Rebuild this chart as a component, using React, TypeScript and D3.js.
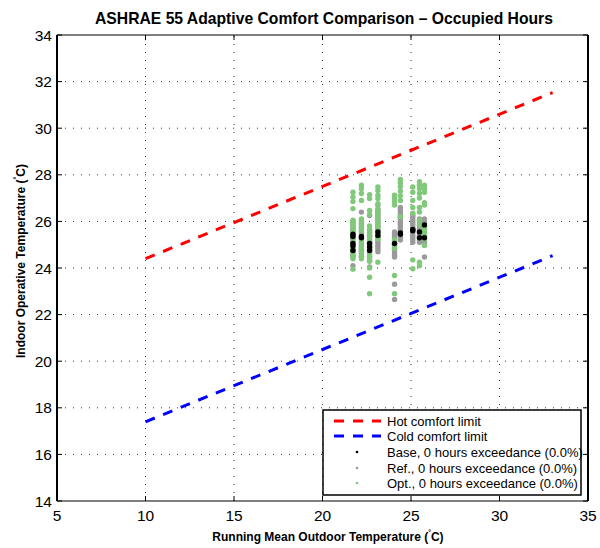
import React from "react";
import * as d3 from "d3";

const W = 600;
const H = 548;
const M = { left: 57, right: 588, top: 35, bottom: 501 };

const xTicks = [5, 10, 15, 20, 25, 30, 35];
const yTicks = [14, 16, 18, 20, 22, 24, 26, 28, 30, 32, 34];

const limitX = [10, 33];
const hotY = [24.4, 31.53];
const coldY = [17.4, 24.53];

const colX = [21.72, 22.2, 22.66, 23.13, 24.07, 24.4, 25.1, 25.48, 25.76];

const baseY = [
  [25.45, 25.35, 25.05, 24.95, 24.75],
  [25.35, 25.3],
  [25.05, 24.9, 24.75],
  [25.55, 25.4],
  [25.05],
  [25.5, 25.45],
  [25.65, 25.6],
  [25.55, 25.3],
  [25.85, 25.3],
];

const refY = [
  [26.0, 25.9, 25.8, 25.7, 25.6, 25.5, 25.4, 25.3, 25.2, 25.1, 25.0, 24.9, 24.8, 24.7, 24.6, 24.5, 24.1],
  [26.4, 26.0, 25.9, 25.8, 25.7, 25.6, 25.5, 25.4, 25.3, 25.2, 25.1, 25.0, 24.9, 24.8, 24.7, 24.6, 24.5],
  [26.25, 25.6, 25.5, 25.4, 25.3, 25.2, 25.1, 25.0, 24.9, 24.8, 24.7, 24.6, 24.5, 24.4, 24.3, 24.05],
  [26.7, 26.5, 26.4, 26.3, 26.2, 26.1, 26.0, 25.9, 25.8, 25.7, 25.6, 25.5, 25.4, 25.3, 25.2, 25.1, 25.0, 24.9, 24.8, 24.7],
  [25.55, 25.45, 25.35, 25.25, 25.15, 25.05, 24.95, 24.85, 24.75, 24.65, 24.55, 24.47, 23.3, 22.65],
  [26.6, 26.5, 26.4, 26.3, 26.2, 26.1, 26.0, 25.9, 25.8, 25.7, 25.6, 25.5, 25.4, 25.3, 25.2],
  [26.3, 26.2, 26.1, 26.0, 25.9, 25.8, 25.7, 25.6, 25.5, 25.4, 25.3, 25.2, 25.1],
  [26.1, 26.0, 25.9, 25.8, 25.7, 25.6, 25.5, 25.4, 25.3, 25.2, 25.1],
  [26.1, 26.0, 25.9, 25.8, 25.7, 25.6, 25.5, 25.4, 25.3, 25.2, 25.1, 25.05, 24.47],
];

const optY = [
  [27.25, 27.05, 26.85, 26.55, 26.05, 25.95, 25.8, 25.7, 25.55, 25.4, 25.25, 25.05, 24.95, 24.8, 24.65, 24.5, 24.4, 23.95],
  [27.55, 27.4, 27.2, 26.9, 26.1, 26.0, 25.9, 25.75, 25.6, 25.2, 25.05, 24.9, 24.8, 24.65, 24.5, 24.4],
  [27.15, 26.98, 26.47, 26.3, 25.8, 25.65, 25.5, 25.35, 25.2, 25.05, 24.9, 24.75, 24.6, 24.45, 24.3, 24.0, 23.6, 22.9],
  [27.48, 27.33, 27.12, 26.98, 26.76, 26.55, 26.4, 26.25, 26.1, 25.95, 25.8, 25.65, 25.5, 25.35, 25.25, 24.25],
  [27.12, 26.98, 26.84, 26.7, 25.2, 25.0, 24.85, 23.68, 22.9],
  [27.8, 27.65, 27.5, 27.3, 27.1, 26.9, 26.2],
  [27.48, 27.25, 26.9, 26.6, 26.35, 24.35, 23.97],
  [27.7, 27.55, 27.4, 27.2, 27.0, 26.6, 26.4, 26.05, 25.85, 24.25, 24.1],
  [27.55, 27.4, 27.25, 26.8, 26.7, 25.8, 25.65, 25.5, 25.35, 25.25, 24.97],
];

const legendLabels = [
  "Hot comfort limit",
  "Cold comfort limit",
  "Base, 0 hours exceedance (0.0%)",
  "Ref., 0 hours exceedance (0.0%)",
  "Opt., 0 hours exceedance (0.0%)",
];

const RED = "#ff0000";
const BLUE = "#0000ff";
const BLACK = "#000000";
const GRAY = "#9a9a9a";
const GREEN = "#80c97a";
const FONT = "'Liberation Sans', Arial, Helvetica, sans-serif";

export default function App() {
  const x = d3.scaleLinear().domain([5, 35]).range([M.left, M.right]);
  const y = d3.scaleLinear().domain([14, 34]).range([M.bottom, M.top]);
  const line = d3
    .line<[number, number]>()
    .x((d) => x(d[0]))
    .y((d) => y(d[1]));

  const toPts = (ys: number[][]) =>
    ys.flatMap((col, i) => col.map((v) => [colX[i], v] as [number, number]));

  const series = [
    { pts: toPts(refY), color: GRAY },
    { pts: toPts(optY), color: GREEN },
    { pts: toPts(baseY), color: BLACK },
  ];

  const legendColors = [RED, BLUE, BLACK, GRAY, GREEN];
  const lg = { x0: 323, y0: 410, w: 258, h: 85, rowY: [421, 436, 452, 468, 483] };

  return (
    <svg width={W} height={H} style={{ position: "absolute", left: 0, top: 0, background: "#fff" }}>
      <rect x={0} y={0} width={W} height={H} fill="#fff" />
      {/* grid */}
      <g stroke="#333" strokeWidth={1} strokeDasharray="1 7">
        {xTicks.slice(1, -1).map((t) => (
          <line key={"gx" + t} x1={x(t)} x2={x(t)} y1={M.bottom} y2={M.top} />
        ))}
        {yTicks.slice(1, -1).map((t) => (
          <line key={"gy" + t} x1={M.left} x2={M.right} y1={y(t)} y2={y(t)} />
        ))}
      </g>
      {/* ticks */}
      <g stroke="#000" strokeWidth={1}>
        {xTicks.map((t) => (
          <g key={"tx" + t}>
            <line x1={x(t)} x2={x(t)} y1={M.bottom} y2={M.bottom - 5} />
            <line x1={x(t)} x2={x(t)} y1={M.top} y2={M.top + 5} />
          </g>
        ))}
        {yTicks.map((t) => (
          <g key={"ty" + t}>
            <line x1={M.left} x2={M.left + 5} y1={y(t)} y2={y(t)} />
            <line x1={M.right} x2={M.right - 5} y1={y(t)} y2={y(t)} />
          </g>
        ))}
      </g>
      {/* limit lines */}
      <path
        d={line(limitX.map((v, i) => [v, hotY[i]]) as [number, number][]) || ""}
        fill="none"
        stroke={RED}
        strokeWidth={3}
        strokeDasharray="10 9"
      />
      <path
        d={line(limitX.map((v, i) => [v, coldY[i]]) as [number, number][]) || ""}
        fill="none"
        stroke={BLUE}
        strokeWidth={3}
        strokeDasharray="10 9"
      />
      {/* scatter */}
      {series.map((s, si) => (
        <g key={"s" + si} fill={s.color}>
          {s.pts.map((p, i) => (
            <circle key={i} cx={x(p[0])} cy={y(p[1])} r={2.7} />
          ))}
        </g>
      ))}
      {/* axes box */}
      <line x1={M.left} x2={M.right} y1={M.top} y2={M.top} stroke="#000" strokeWidth={1} />
      <line x1={M.left} x2={M.right} y1={M.bottom} y2={M.bottom} stroke="#000" strokeWidth={1.2} />
      <line x1={M.left} x2={M.left} y1={M.top} y2={M.bottom} stroke="#000" strokeWidth={2} />
      <line x1={M.right} x2={M.right} y1={M.top} y2={M.bottom} stroke="#000" strokeWidth={2} />
      {/* tick labels */}
      <g fontFamily={FONT} fontSize={15.5} fill="#000">
        {xTicks.map((t) => (
          <text key={"lx" + t} x={x(t)} y={521} textAnchor="middle">
            {t}
          </text>
        ))}
        {yTicks.map((t) => (
          <text key={"ly" + t} x={M.left - 5} y={y(t) + 5.5} textAnchor="end">
            {t}
          </text>
        ))}
      </g>
      {/* title */}
      <text x={324} y={24} textAnchor="middle" fontFamily={FONT} fontSize={15.7} fontWeight="bold">
        ASHRAE 55 Adaptive Comfort Comparison – Occupied Hours
      </text>
      {/* x label */}
      <text x={328} y={541} textAnchor="middle" fontFamily={FONT} fontSize={12} fontWeight="bold">
        Running Mean Outdoor Temperature (
        <tspan fontSize={7} dy={-6}>°</tspan>
        <tspan dy={6}>C)</tspan>
      </text>
      {/* y label */}
      <text
        transform={`translate(25,261) rotate(-90)`}
        textAnchor="middle"
        fontFamily={FONT}
        fontSize={12}
        fontWeight="bold"
      >
        Indoor Operative Temperature (
        <tspan fontSize={7} dy={-6}>°</tspan>
        <tspan dy={6}>C)</tspan>
      </text>
      {/* legend */}
      <g>
        <rect x={lg.x0} y={lg.y0} width={lg.w} height={lg.h} fill="#fff" stroke="#000" strokeWidth={1.5} />
        {legendLabels.map((lab, i) => (
          <g key={"lg" + i}>
            {i < 2 ? (
              <line
                x1={334}
                x2={381}
                y1={lg.rowY[i]}
                y2={lg.rowY[i]}
                stroke={legendColors[i]}
                strokeWidth={3}
                strokeDasharray="10 9"
              />
            ) : (
              <circle cx={357} cy={lg.rowY[i]} r={1.3} fill={legendColors[i]} />
            )}
            <text x={387} y={lg.rowY[i] + 4.5} fontFamily={FONT} fontSize={13}>
              {lab}
            </text>
          </g>
        ))}
      </g>
    </svg>
  );
}
